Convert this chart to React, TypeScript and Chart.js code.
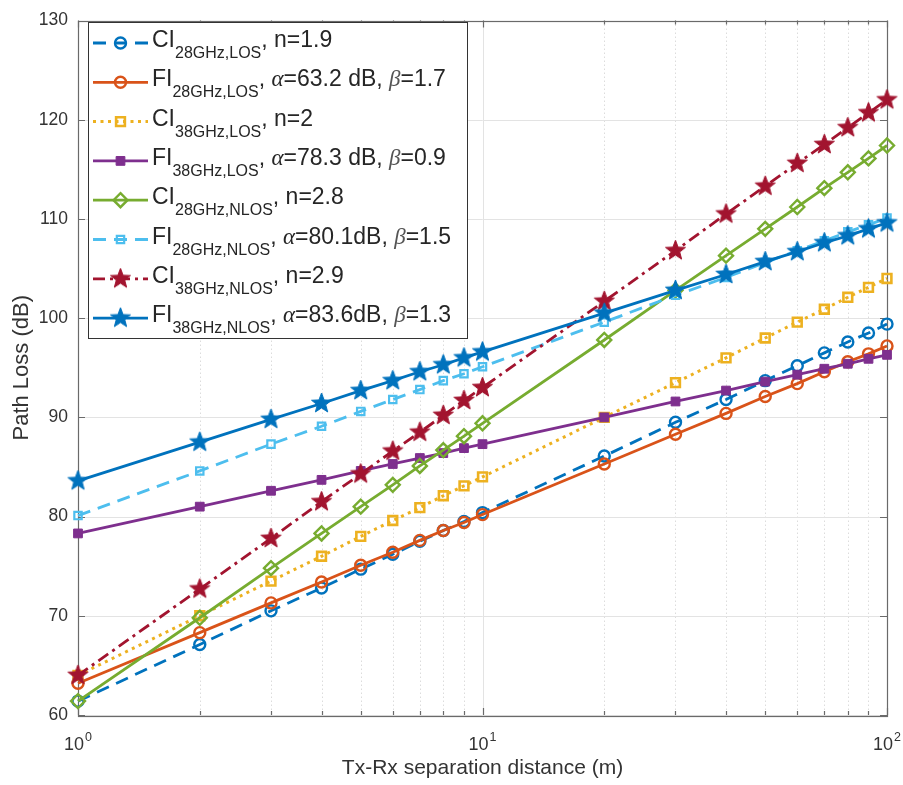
import React, { useEffect, useRef } from 'react';
import { Chart, registerables } from 'chart.js';

Chart.register(...registerables);

// ---------- data ----------
const distances = [1, 2, 3, 4, 5, 6, 7, 8, 9, 10, 20, 30, 40, 50, 60, 70, 80, 90, 100];

const ci28Los = [61.4, 67.1, 70.5, 72.8, 74.7, 76.2, 77.5, 78.6, 79.5, 80.4, 86.1, 89.5, 91.8, 93.7, 95.2, 96.5, 97.6, 98.5, 99.4];
const fi28Los = [63.2, 68.3, 71.3, 73.4, 75.1, 76.4, 77.6, 78.6, 79.4, 80.2, 85.3, 88.3, 90.4, 92.1, 93.4, 94.6, 95.6, 96.4, 97.2];
const ci38Los = [64.0, 70.0, 73.5, 76.0, 78.0, 79.6, 80.9, 82.1, 83.1, 84.0, 90.0, 93.5, 96.0, 98.0, 99.6, 100.9, 102.1, 103.1, 104.0];
const fi38Los = [78.3, 81.0, 82.6, 83.7, 84.6, 85.3, 85.9, 86.4, 86.9, 87.3, 90.0, 91.6, 92.7, 93.6, 94.3, 94.9, 95.4, 95.9, 96.3];
const ci28Nlos = [61.4, 69.8, 74.8, 78.3, 81.0, 83.2, 85.1, 86.7, 88.1, 89.4, 97.8, 102.8, 106.3, 109.0, 111.2, 113.1, 114.7, 116.1, 117.4];
const fi28Nlos = [80.1, 84.6, 87.3, 89.1, 90.6, 91.8, 92.8, 93.7, 94.4, 95.1, 99.6, 102.3, 104.1, 105.6, 106.8, 107.8, 108.7, 109.4, 110.1];
const ci38Nlos = [64.0, 72.7, 77.8, 81.5, 84.3, 86.6, 88.5, 90.2, 91.7, 93.0, 101.7, 106.8, 110.5, 113.3, 115.6, 117.5, 119.2, 120.7, 122.0];
const fi38Nlos = [83.6, 87.5, 89.8, 91.4, 92.7, 93.7, 94.6, 95.3, 96.0, 96.6, 100.5, 102.8, 104.4, 105.7, 106.7, 107.6, 108.3, 109.0, 109.6];

const legendMain = ['CI', 'FI', 'CI', 'FI', 'CI', 'FI', 'CI', 'FI'];
const legendSub = ['28GHz,LOS', '28GHz,LOS', '38GHz,LOS', '38GHz,LOS', '28GHz,NLOS', '28GHz,NLOS', '38GHz,NLOS', '38GHz,NLOS'];
const legendTail = [
  ', n=1.9',
  ', α=63.2 dB, β=1.7',
  ', n=2',
  ', α=78.3 dB, β=0.9',
  ', n=2.8',
  ', α=80.1dB, β=1.5',
  ', n=2.9',
  ', α=83.6dB, β=1.3',
];

const yTickValues = [60, 70, 80, 90, 100, 110, 120, 130];
const xDecades = [1, 10, 100];
const xDecadeBase = '10';
const xDecadeExponents = ['0', '1', '2'];
const xMinorTicks = [2, 3, 4, 5, 6, 7, 8, 9, 20, 30, 40, 50, 60, 70, 80, 90];
const xTitle = 'Tx-Rx separation distance (m)';
const yTitle = 'Path Loss (dB)';

// ---------- styles ----------
const FONT = '"Liberation Sans", Arial, Helvetica, sans-serif';
const SERIF = '"Liberation Serif", "Times New Roman", serif';

type Style = {
  color: string;
  dash: number[];
  marker: 'circle' | 'rect' | 'diamond' | 'star';
  filled: boolean;
  radius: number;
  markerWidth: number;
  lineWidth: number;
};

const styles: Style[] = [
  { color: '#0072BD', dash: [13, 8], marker: 'circle', filled: false, radius: 5.5, markerWidth: 2.4, lineWidth: 2.8 },
  { color: '#D95319', dash: [], marker: 'circle', filled: false, radius: 5.5, markerWidth: 2.4, lineWidth: 2.8 },
  { color: '#EDB120', dash: [3, 4.5], marker: 'rect', filled: false, radius: 6.2, markerWidth: 2.6, lineWidth: 3 },
  { color: '#7E2F8E', dash: [], marker: 'rect', filled: true, radius: 6.2, markerWidth: 1, lineWidth: 2.8 },
  { color: '#77AC30', dash: [], marker: 'diamond', filled: false, radius: 7, markerWidth: 2.4, lineWidth: 2.8 },
  { color: '#4DBEEE', dash: [13, 8], marker: 'rect', filled: false, radius: 5.2, markerWidth: 2.2, lineWidth: 2.8 },
  { color: '#A2142F', dash: [12, 5, 3, 5], marker: 'star', filled: true, radius: 10.5, markerWidth: 1, lineWidth: 2.8 },
  { color: '#0072BD', dash: [], marker: 'star', filled: true, radius: 10.5, markerWidth: 1, lineWidth: 2.8 },
];

const seriesValues = [ci28Los, fi28Los, ci38Los, fi38Los, ci28Nlos, fi28Nlos, ci38Nlos, fi38Nlos];

function makeStar(color: string, R: number): HTMLCanvasElement {
  const s = Math.ceil(R * 2 + 4);
  const c = document.createElement('canvas');
  c.width = s;
  c.height = s;
  const g = c.getContext('2d')!;
  g.beginPath();
  for (let k = 0; k < 10; k++) {
    const r = k % 2 === 0 ? R : R * 0.42;
    const ang = -Math.PI / 2 + (k * Math.PI) / 5;
    const px = s / 2 + r * Math.cos(ang);
    const py = s / 2 + r * Math.sin(ang);
    if (k === 0) g.moveTo(px, py);
    else g.lineTo(px, py);
  }
  g.closePath();
  g.fillStyle = color;
  g.fill();
  g.strokeStyle = color;
  g.lineWidth = 1;
  g.stroke();
  return c;
}

function drawMarker(ctx: CanvasRenderingContext2D, st: Style, x: number, y: number, starImg?: HTMLCanvasElement) {
  ctx.save();
  ctx.setLineDash([]);
  ctx.strokeStyle = st.color;
  ctx.fillStyle = st.color;
  ctx.lineWidth = st.markerWidth;
  if (st.marker === 'star' && starImg) {
    ctx.drawImage(starImg, x - starImg.width / 2, y - starImg.height / 2);
  } else {
    ctx.beginPath();
    if (st.marker === 'circle') {
      ctx.arc(x, y, st.radius, 0, Math.PI * 2);
    } else if (st.marker === 'rect') {
      const h = Math.SQRT1_2 * st.radius;
      ctx.rect(x - h, y - h, 2 * h, 2 * h);
    } else if (st.marker === 'diamond') {
      const r = st.radius;
      ctx.moveTo(x, y - r);
      ctx.lineTo(x + r, y);
      ctx.lineTo(x, y + r);
      ctx.lineTo(x - r, y);
      ctx.closePath();
    }
    if (st.filled) ctx.fill();
    ctx.stroke();
  }
  ctx.restore();
}

export default function App() {
  const ref = useRef<HTMLCanvasElement | null>(null);

  useEffect(() => {
    document.body.style.margin = '0';
    const canvas = ref.current;
    if (!canvas) return;

    const starImgs: (HTMLCanvasElement | undefined)[] = styles.map((s) =>
      s.marker === 'star' ? makeStar(s.color, s.radius) : undefined
    );

    const datasets = seriesValues.map((vals, i) => {
      const st = styles[i];
      let pointStyle: any = st.marker === 'diamond' ? 'rectRot' : st.marker;
      if (st.marker === 'star') pointStyle = starImgs[i];
      return {
        label: legendMain[i] + legendSub[i] + legendTail[i],
        data: distances.map((d, k) => ({ x: d, y: vals[k] })),
        borderColor: st.color,
        backgroundColor: st.color,
        borderWidth: st.lineWidth,
        borderDash: st.dash,
        tension: 0,
        fill: false,
        pointStyle,
        pointRadius: st.radius,
        pointBorderWidth: st.markerWidth,
        pointBorderColor: st.color,
        pointBackgroundColor: st.filled ? st.color : 'rgba(0,0,0,0)',
        clip: false as any,
        order: styles.length - 1 - i,
      };
    });

    const axesPlugin = {
      id: 'matlabAxes',
      beforeDatasetsDraw(chart: any) {
        const { ctx, chartArea: a, scales } = chart;
        const x = scales.x;
        const y = scales.y;
        ctx.save();
        ctx.lineWidth = 1;
        // minor x grid (dotted)
        ctx.strokeStyle = '#dcdcdc';
        ctx.setLineDash([1.5, 2.5]);
        for (const v of xMinorTicks) {
          const px = Math.round(x.getPixelForValue(v)) + 0.5;
          ctx.beginPath();
          ctx.moveTo(px, a.top);
          ctx.lineTo(px, a.bottom);
          ctx.stroke();
        }
        ctx.setLineDash([]);
        ctx.strokeStyle = '#e3e3e3';
        for (const v of xDecades) {
          const px = Math.round(x.getPixelForValue(v)) + 0.5;
          ctx.beginPath();
          ctx.moveTo(px, a.top);
          ctx.lineTo(px, a.bottom);
          ctx.stroke();
        }
        for (const v of yTickValues) {
          const py = Math.round(y.getPixelForValue(v)) + 0.5;
          ctx.beginPath();
          ctx.moveTo(a.left, py);
          ctx.lineTo(a.right, py);
          ctx.stroke();
        }
        // box
        ctx.strokeStyle = '#6a6a6a';
        ctx.lineWidth = 1.2;
        ctx.strokeRect(Math.round(a.left) + 0.5, Math.round(a.top) + 0.5, Math.round(a.right - a.left), Math.round(a.bottom - a.top));
        // ticks
        ctx.beginPath();
        for (const v of yTickValues) {
          const py = Math.round(y.getPixelForValue(v)) + 0.5;
          ctx.moveTo(a.left, py);
          ctx.lineTo(a.left + 7, py);
          ctx.moveTo(a.right, py);
          ctx.lineTo(a.right - 7, py);
        }
        for (const v of xDecades) {
          const px = Math.round(x.getPixelForValue(v)) + 0.5;
          ctx.moveTo(px, a.bottom);
          ctx.lineTo(px, a.bottom - 7);
          ctx.moveTo(px, a.top);
          ctx.lineTo(px, a.top + 7);
        }
        for (const v of xMinorTicks) {
          const px = Math.round(x.getPixelForValue(v)) + 0.5;
          ctx.moveTo(px, a.bottom);
          ctx.lineTo(px, a.bottom - 4);
          ctx.moveTo(px, a.top);
          ctx.lineTo(px, a.top + 4);
        }
        ctx.stroke();
        ctx.restore();
      },
      afterDraw(chart: any) {
        const { ctx, chartArea: a, scales } = chart;
        const x = scales.x;
        ctx.save();
        // x decade tick labels with superscripts
        ctx.fillStyle = '#333';
        ctx.textBaseline = 'alphabetic';
        ctx.textAlign = 'left';
        xDecades.forEach((v, i) => {
          const px = x.getPixelForValue(v);
          ctx.font = `18px ${FONT}`;
          const wb = ctx.measureText(xDecadeBase).width;
          ctx.font = `12.5px ${FONT}`;
          const we = ctx.measureText(xDecadeExponents[i]).width;
          const start = px - (wb + we + 1) / 2;
          ctx.font = `18px ${FONT}`;
          ctx.fillText(xDecadeBase, start, a.bottom + 35);
          ctx.font = `12.5px ${FONT}`;
          ctx.fillText(xDecadeExponents[i], start + wb + 1, a.bottom + 26);
        });

        // legend
        const bx = 88, by = 22, bw = 379, bh = 316;
        ctx.fillStyle = '#ffffff';
        ctx.fillRect(bx, by, bw, bh);
        ctx.strokeStyle = '#333';
        ctx.lineWidth = 1;
        ctx.setLineDash([]);
        ctx.strokeRect(bx + 0.5, by + 0.5, bw, bh);
        styles.forEach((st, i) => {
          const cy = by + 21 + i * 39.3;
          ctx.save();
          ctx.strokeStyle = st.color;
          ctx.lineWidth = st.lineWidth;
          ctx.setLineDash(st.dash);
          ctx.beginPath();
          ctx.moveTo(93, cy);
          ctx.lineTo(148, cy);
          ctx.stroke();
          ctx.restore();
          drawMarker(ctx, st, 120.5, cy, starImgs[i]);

          let tx = 152;
          const base = cy + 4;
          ctx.fillStyle = '#262626';
          ctx.textAlign = 'left';
          ctx.textBaseline = 'alphabetic';
          ctx.font = `23px ${FONT}`;
          ctx.fillText(legendMain[i], tx, base);
          tx += ctx.measureText(legendMain[i]).width;
          ctx.font = `16px ${FONT}`;
          ctx.fillText(legendSub[i], tx, base + 11);
          tx += ctx.measureText(legendSub[i]).width;
          const parts = legendTail[i].split(/([αβ])/);
          for (const p of parts) {
            if (!p) continue;
            if (p === 'α' || p === 'β') {
              ctx.font = `italic 23px ${SERIF}`;
              ctx.fillStyle = p === 'β' ? '#555' : '#262626';
            } else {
              ctx.font = `23px ${FONT}`;
              ctx.fillStyle = '#262626';
            }
            ctx.fillText(p, tx, base);
            tx += ctx.measureText(p).width;
          }
        });
        ctx.restore();
      },
    };

    const chart = new Chart(canvas, {
      type: 'line',
      data: { datasets: datasets as any },
      options: {
        responsive: false,
        animation: false,
        devicePixelRatio: 1,
        events: [],
        layout: { padding: { top: 13, right: 16, left: 0, bottom: 0 } },
        plugins: { legend: { display: false }, tooltip: { enabled: false } },
        scales: {
          x: {
            type: 'logarithmic',
            min: 1,
            max: 100,
            grid: { display: false, drawTicks: false },
            border: { display: false },
            ticks: { display: false },
            title: {
              display: true,
              text: xTitle,
              color: '#333',
              font: { size: 21, family: FONT },
              padding: { top: 0, bottom: 4 },
            },
            afterFit: (s: any) => {
              s.height = 70;
            },
          },
          y: {
            type: 'linear',
            min: 60,
            max: 130,
            grid: { display: false, drawTicks: false },
            border: { display: false },
            ticks: {
              stepSize: 10,
              padding: 10,
              color: '#333',
              font: { size: 17.5, family: FONT },
            },
            title: {
              display: true,
              text: yTitle,
              color: '#333',
              font: { size: 22, family: FONT },
              padding: { top: 9, bottom: 0 },
            },
            afterFit: (s: any) => {
              s.width = 78;
            },
          },
        },
      } as any,
      plugins: [axesPlugin],
    });

    return () => {
      chart.destroy();
    };
  }, []);

  return (
    <div style={{ width: 903, height: 785, position: 'relative', overflow: 'hidden', background: '#fff' }}>
      <canvas ref={ref} width={903} height={785} style={{ display: 'block' }} />
    </div>
  );
}
